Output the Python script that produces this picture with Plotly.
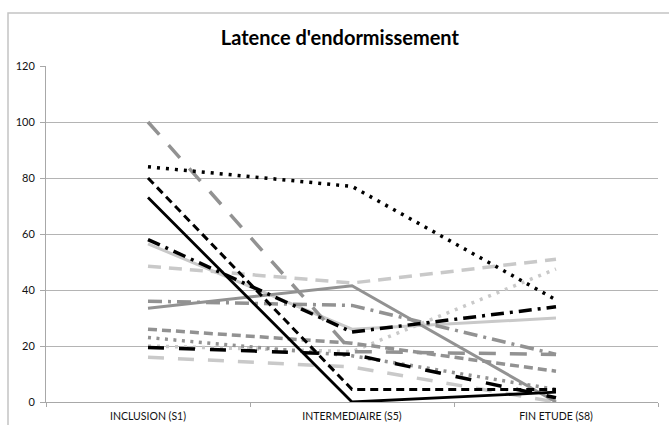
import plotly.graph_objects as go

categories = ["INCLUSION (S1)", "INTERMEDIAIRE (S5)", "FIN ETUDE (S8)"]

# series values (S1, S5, S8)
light_long_dash = [48.5, 42.5, 51]
light_solid = [56.5, 26, 30]
light_dotted = [20, 18, 47.5]
light_dash = [16, 12.5, 0]
gray_long_dash = [100, 18, 17]
gray_dash_dot = [36, 34.5, 17]
gray_solid = [33.5, 41.5, 0]
gray_short_dash = [26, 21, 11]
gray_dotted = [23, 16.5, 4.5]
black_long_dash = [19.5, 17, 1.5]
black_solid = [73, 0, 3.5]
black_dashed = [80, 4.5, 4.5]
black_dotted = [84, 77, 36.5]
black_dash_dot = [58, 25, 34]

y_ticks = [0, 20, 40, 60, 80, 100, 120]

LIGHT = "#c9c9c9"
GRAY = "#929292"
BLACK = "#000000"

series = [
    (light_long_dash, LIGHT, 3.5, "13px,8px"),
    (light_solid, LIGHT, 3, "solid"),
    (light_dotted, LIGHT, 3.5, "3px,6px"),
    (light_dash, LIGHT, 3.5, "16px,14px"),
    (gray_long_dash, GRAY, 3.5, "17px,14px"),
    (gray_dash_dot, GRAY, 3.5, "14px,6px,3px,6px"),
    (gray_solid, GRAY, 3, "solid"),
    (gray_short_dash, GRAY, 3.5, "9px,5px"),
    (gray_dotted, GRAY, 3.5, "3px,5.5px"),
    (black_long_dash, BLACK, 3.5, "16px,15px"),
    (black_solid, BLACK, 2.8, "solid"),
    (black_dashed, BLACK, 3, "8px,5px"),
    (black_dotted, BLACK, 3.5, "3px,6px"),
    (black_dash_dot, BLACK, 3.5, "13px,6px,3px,6px"),
]

fig = go.Figure()
for vals, color, w, dash in series:
    fig.add_trace(go.Scatter(
        x=categories, y=vals, mode="lines",
        line=dict(color=color, width=w, dash=dash),
        showlegend=False, hoverinfo="skip",
    ))

fig.update_layout(
    width=669, height=425,
    margin=dict(l=46, r=11, t=66, b=23),
    paper_bgcolor="white", plot_bgcolor="white",
    font=dict(family="Lato, sans-serif", size=10, color="#111111"),
    title=dict(
        text="<b>Latence d'endormissement</b>",
        x=0.508, xanchor="center", y=1 - 38 / 425, yanchor="middle",
        font=dict(family="Lato, sans-serif", size=20, color="#000000"),
    ),
    xaxis=dict(
        type="category", range=[-0.5, 2.5], automargin=False,
        showline=True, linecolor="#a8a8a8", linewidth=1,
        ticks="outside", tickson="boundaries", ticklen=4, tickcolor="#a8a8a8",
        showgrid=False, zeroline=False,
        tickfont=dict(family="Lato, sans-serif", size=10.5, color="#111111"),
        ticklabelstandoff=4,
    ),
    yaxis=dict(
        range=[0, 120], tickvals=y_ticks, automargin=False,
        showline=True, linecolor="#a8a8a8", linewidth=1,
        ticks="outside", ticklen=5, tickcolor="#a8a8a8",
        showgrid=True, gridcolor="#b4b4b4", gridwidth=1,
        zeroline=False,
        tickfont=dict(family="Lato, sans-serif", size=11, color="#111111"),
        ticklabelstandoff=3,
    ),
    shapes=[dict(
        type="rect", xref="paper", yref="paper",
        x0=(8 - 46) / 612, x1=1.05, y0=-0.3, y1=(402 - 13) / 336,
        line=dict(color="#c4c4c4", width=1.5), fillcolor="rgba(0,0,0,0)",
        layer="below",
    )],
)

fig.write_html(
    "out.html",
    config={"displayModeBar": False},
    post_script="document.body.style.margin='0';document.body.style.overflow='hidden';",
)
